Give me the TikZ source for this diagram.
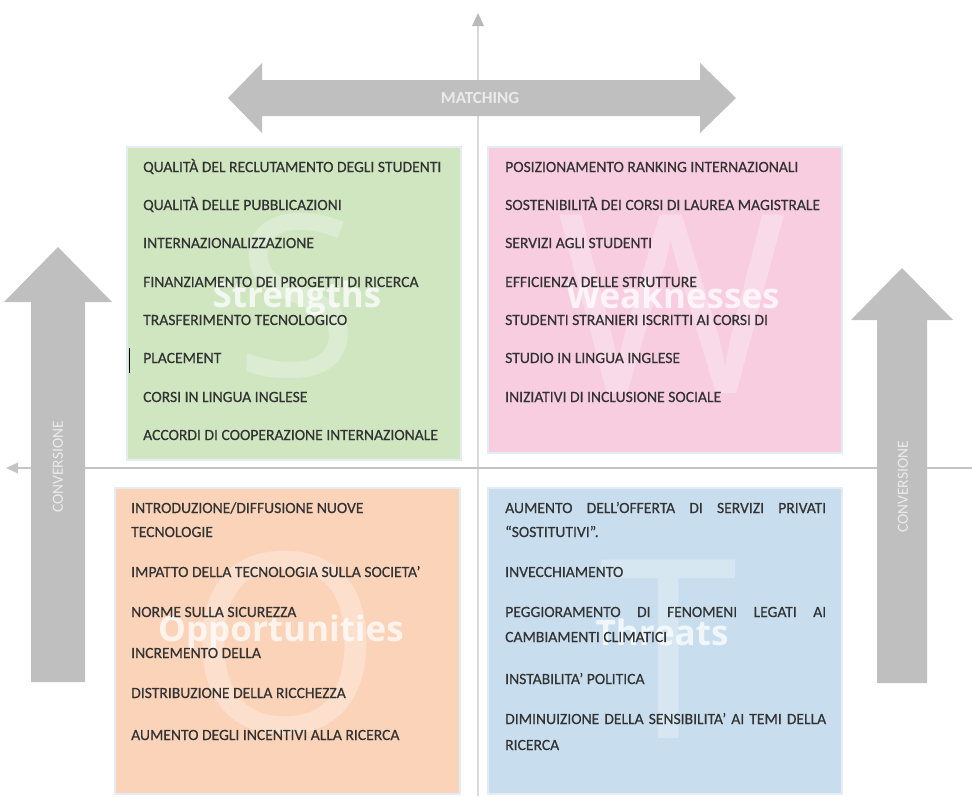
\documentclass[tikz,border=0pt]{standalone}
\usepackage{fontspec}
\setmainfont{Carlito}
\newfontfamily\itemfont[FakeBold=0.5]{Carlito}
\newfontfamily\wmfont{Open Sans}
\definecolor{arrowgray}{HTML}{BFBFBF}
\definecolor{axisgray}{HTML}{C4C4C4}
\definecolor{axislight}{HTML}{DADADA}
\definecolor{itemtext}{HTML}{333333}
\definecolor{sgreen}{HTML}{CFE6C1}
\definecolor{wpink}{HTML}{F8CDE0}
\definecolor{opeach}{HTML}{FBD3B9}
\definecolor{tblue}{HTML}{C8DEEE}
\definecolor{boxedge}{HTML}{E4ECF4}
\tikzset{
  quad/.style={draw=boxedge, line width=1.5pt, inner sep=0pt, minimum width=#1},
  item/.style={anchor=base west, inner sep=0pt, text=itemtext,
    font=\itemfont\fontsize{15.6}{18}\selectfont},
  bigletter/.style={inner sep=0pt, text=white, text opacity=0.28,
    font=\wmfont\fontsize{250}{250}\selectfont},
  wmword/.style={inner sep=0pt, text=white, text opacity=0.75,
    font=\wmfont\bfseries\fontsize{35}{35}\selectfont},
  arrowlabel/.style={inner sep=0pt, text=white!92!black,
    font=\fontsize{15.5}{17}\selectfont},
  bigarrow/.style={fill=arrowgray, draw=none},
}
\begin{document}
\begin{tikzpicture}[x=1pt,y=-1pt]
\useasboundingbox (0,0) rectangle (972,796);

% axes
\coordinate (vbot) at (478,796);
\coordinate (vtop) at (478,13);
\coordinate (hright) at (972,468);
\coordinate (hleft) at (6,468);
\draw[axislight, line width=1.3pt] (vbot) -- (478,25);
\fill[axislight!85!black] (vtop) -- (472,26) -- (484,26) -- cycle;
\draw[axisgray, line width=1.1pt] (hright) -- (17,468);
\fill[axisgray] (hleft) -- (18,462.5) -- (18,473.5) -- cycle;

% matching arrow
\fill[bigarrow] (228,98) -- (262,63) -- (262,80) -- (700,80) -- (700,63)
  -- (736,98) -- (700,133) -- (700,116) -- (262,116) -- (262,133) -- cycle;
\node[arrowlabel, font=\bfseries\fontsize{17}{19}\selectfont] (match) at (480,98) {MATCHING};

% conversion arrows
\fill[bigarrow] (58,247) -- (112,302) -- (85,302) -- (85,682) -- (31,682)
  -- (31,302) -- (4,302) -- cycle;
\node[arrowlabel, rotate=90] (convl) at (58,467) {CONVERSIONE};
\fill[bigarrow] (902,268) -- (953,320) -- (927,320) -- (927,683) -- (877,683)
  -- (877,320) -- (851,320) -- cycle;
\node[arrowlabel, rotate=90] (convr) at (903,487) {CONVERSIONE};

% quadrants
\node[quad=334pt, minimum height=313pt, fill=sgreen] (S) at (294,303.5) {};
\node[quad=354pt, minimum height=306pt, fill=wpink] (W) at (665,300) {};
\node[quad=345pt, minimum height=306pt, fill=opeach] (O) at (287.5,641) {};
\node[quad=354pt, minimum height=306pt, fill=tblue] (T) at (665,641) {};

% watermark letters and words
\node[bigletter, font=\wmfont\fontsize{225}{225}\selectfont] (Sl) at (297,296) {S};
\node[bigletter] (Wl) at (672,304) {W};
\node[bigletter] (Ol) at (285,643) {O};
\node[bigletter] (Tl) at (669,649) {T};
\node[wmword] (Sw) at (297,298) {Strengths};
\node[wmword] (Ww) at (673,295) {Weaknesses};
\node[wmword] (Ow) at (281,632) {Opportunities};
\node[wmword] (Tw) at (662,632) {Threats};

% strengths
\node[item] (s1) at (143,172) {QUALITÀ DEL RECLUTAMENTO DEGLI STUDENTI};
\node[item] (s2) at (143,210) {QUALITÀ DELLE PUBBLICAZIONI};
\node[item] (s3) at (143,248) {INTERNAZIONALIZZAZIONE};
\node[item] (s4) at (143,287) {FINANZIAMENTO DEI PROGETTI DI RICERCA};
\node[item] (s5) at (143,325) {TRASFERIMENTO TECNOLOGICO};
\node[item] (s6) at (143,363) {PLACEMENT};
\node[item] (s7) at (143,402) {CORSI IN LINGUA INGLESE};
\node[item] (s8) at (143,440) {ACCORDI DI COOPERAZIONE INTERNAZIONALE};
\draw[black, line width=1pt] (129,348) -- (129,373);

% weaknesses
\node[item] (w1) at (505,172) {POSIZIONAMENTO RANKING INTERNAZIONALI};
\node[item] (w2) at (505,210) {SOSTENIBILITÀ DEI CORSI DI LAUREA MAGISTRALE};
\node[item] (w3) at (505,248) {SERVIZI AGLI STUDENTI};
\node[item] (w4) at (505,287) {EFFICIENZA DELLE STRUTTURE};
\node[item] (w5) at (505,325) {STUDENTI STRANIERI ISCRITTI AI CORSI DI};
\node[item] (w6) at (505,363) {STUDIO IN LINGUA INGLESE};
\node[item] (w7) at (505,402) {INIZIATIVI DI INCLUSIONE SOCIALE};

% opportunities
\node[item] (o1) at (131,513) {INTRODUZIONE/DIFFUSIONE NUOVE};
\node[item] (o2) at (131,537) {TECNOLOGIE};
\node[item] (o3) at (131,577) {IMPATTO DELLA TECNOLOGIA SULLA SOCIETA’};
\node[item] (o4) at (131,617) {NORME SULLA SICUREZZA};
\node[item] (o5) at (131,658) {INCREMENTO DELLA};
\node[item] (o6) at (131,698) {DISTRIBUZIONE DELLA RICCHEZZA};
\node[item] (o7) at (131,740) {AUMENTO DEGLI INCENTIVI ALLA RICERCA};

% threats
\node[item] (t1) at (505,513) {\makebox[321pt][s]{AUMENTO DELL’OFFERTA DI SERVIZI PRIVATI}};
\node[item] (t2) at (505,537) {“SOSTITUTIVI”.};
\node[item] (t3) at (505,577) {INVECCHIAMENTO};
\node[item] (t4) at (505,617) {\makebox[321pt][s]{PEGGIORAMENTO DI FENOMENI LEGATI AI}};
\node[item] (t5) at (505,642) {CAMBIAMENTI CLIMATICI};
\node[item] (t6) at (505,684) {INSTABILITA’ POLITICA};
\node[item] (t7) at (505,724) {\makebox[321pt][s]{DIMINUIZIONE DELLA SENSIBILITA’ AI TEMI DELLA}};
\node[item] (t8) at (505,750) {RICERCA};
\end{tikzpicture}
\end{document}
